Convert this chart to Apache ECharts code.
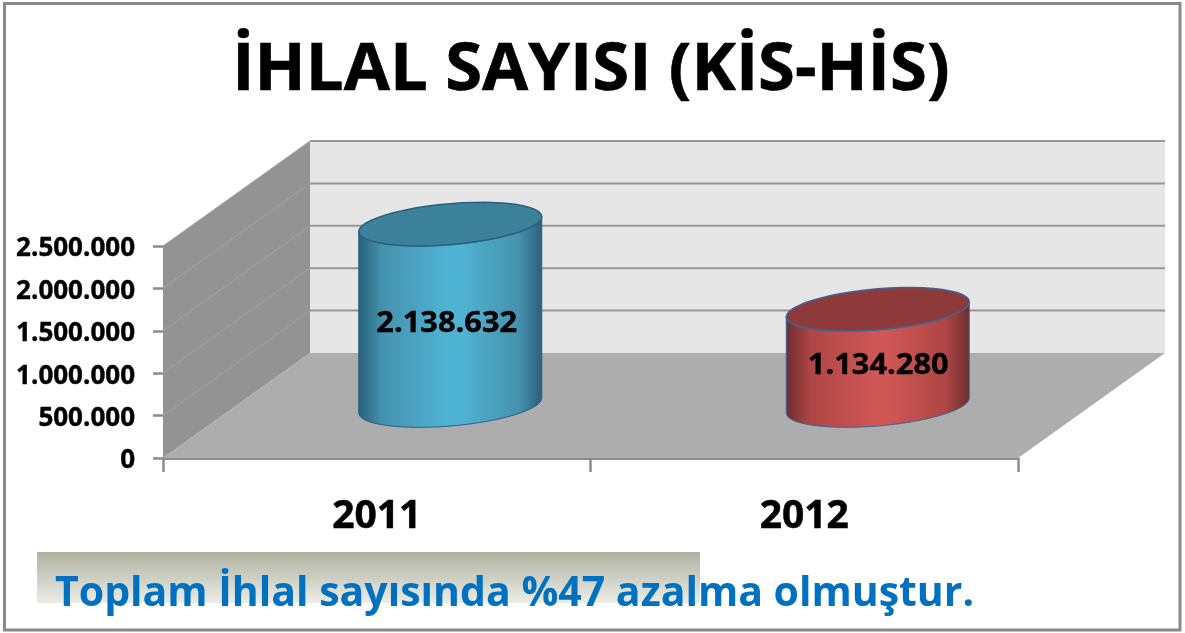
<!DOCTYPE html>
<html><head><meta charset="utf-8">
<style>html,body{margin:0;padding:0;background:#fff}#c{width:1185px;height:633px}</style>
<script src="https://cdn.jsdelivr.net/npm/echarts@6/dist/echarts.min.js"></script>
</head><body><div id="c"></div>
<script>
const categories = ['2011', '2012'];
const values = [2138632, 1134280];
const dataLabels = ['2.138.632', '1.134.280'];
const yTicks = [0, 500000, 1000000, 1500000, 2000000, 2500000];
const yTickLabels = ['0', '500.000', '1.000.000', '1.500.000', '2.000.000', '2.500.000'];
const titleText = 'İHLAL SAYISI (KİS-HİS)';
const noteText = 'Toplam İhlal sayısında %47 azalma olmuştur.';

const DX = 147, DY = 105;
const FONT = '"Open Sans"';
const palette = [
  {top:'#3a8199', edge:'#2a5f7c', labelDx:-3.5, stops:['#2b6078','#4592ad','#4fb3d3','#4fb3d3','#4592ad','#2b6078']},
  {top:'#8f3a3a', edge:'#3f6396', labelDx:0.5, stops:['#6b2d2d','#ad4644','#cf5755','#cf5755','#ad4644','#6b2d2d']}
];
const chart = echarts.init(document.getElementById('c'), null, {renderer:'canvas'});

function wallItem(params, api) {
  const p0 = api.coord([0, 0]);
  const size = api.size([1, 0]);
  const xL = p0[0] - size[0] / 2;
  const xR = xL + size[0] * categories.length;
  const yB = p0[1];
  const yT = api.coord([0, yTicks[yTicks.length - 1]])[1];
  return {type:'group', children:[
    {type:'polygon', shape:{points:[[xL+DX,yT-DY],[xR+DX,yT-DY],[xR+DX,yB-DY],[xL+DX,yB-DY]]}, style:{fill:'#e6e6e6'}},
    {type:'polygon', shape:{points:[[xL,yT],[xL+DX,yT-DY],[xL+DX,yB-DY],[xL,yB]]}, style:{fill:'#939393'}},
    {type:'polygon', shape:{points:[[xL,yB],[xL+DX,yB-DY],[xR+DX,yB-DY],[xR,yB]]}, style:{fill:'#adadad'}}
  ]};
}
function gridItem(params, api) {
  const v = api.value(0);
  const p0 = api.coord([0, v]);
  const size = api.size([1, 0]);
  const xL = p0[0] - size[0] / 2;
  const xR = xL + size[0] * categories.length;
  const y = p0[1];
  return {type:'group', children:[
    {type:'polyline', shape:{points:[[xL,y],[xL+DX,y-DY]]}, style:{stroke:'#a3a3a3', lineWidth:1, fill:null}},
    {type:'polyline', shape:{points:[[xL+DX,y-DY],[xR+DX,y-DY]]}, style:{stroke:'#969696', lineWidth:2, fill:null}}
  ]};
}
function ellipsePts(cx, cy, a, b, s, from, to) {
  const pts = [];
  const n = 48;
  for (let i = 0; i <= n; i++) {
    const t = from + (to - from) * i / n;
    pts.push([cx + a * Math.cos(t), cy + b * Math.sin(t) - s * Math.cos(t)]);
  }
  return pts;
}
function cylItem(params, api) {
  const idx = params.dataIndex;
  const base = api.coord([idx, 0]);
  const top = api.coord([idx, api.value(1)]);
  const cx = base[0] + DX / 2, yb = base[1] - DY / 2, yt = top[1] - DY / 2;
  const a = 91.5, b = 20.5, s = 7.5;
  const c = palette[idx];
  const front = ellipsePts(cx, yb, a, b, s, 0, Math.PI);
  const back = ellipsePts(cx, yt, a, b, s, Math.PI, 0);
  const stops = c.stops.map((col, i) => ({offset:[0,0.13,0.48,0.56,0.87,1][i], color:col}));
  return {type:'group', children:[
    {type:'polygon', shape:{points:front.concat(back)},
      style:{fill:{type:'linear',x:0,y:0,x2:1,y2:0,colorStops:stops}, stroke:c.edge, lineWidth:1}},
    {type:'polygon', shape:{points:ellipsePts(cx, yt, a, b, s, 0, Math.PI*2)},
      style:{fill:c.top, stroke:c.edge, lineWidth:1.5}},
    {type:'text', x:cx+c.labelDx, y:(yb+yt)/2+9, scaleX:1.1,
      style:{text:dataLabels[idx], fill:'#000', font:'bold 28px '+FONT, align:'center', verticalAlign:'middle',
        stroke:'#000', lineWidth:0.4}}
  ]};
}
chart.setOption({
  animation:false,
  backgroundColor:'#fff',
  title:{text:titleText, left:586, top:32, textAlign:'center',
    textStyle:{fontFamily:FONT, fontWeight:'bold', fontSize:67, color:'#000', textBorderColor:'#000', textBorderWidth:0.6}},
  grid:{left:163, top:246, width:855, height:212, containLabel:false},
  xAxis:{type:'category', data:categories, boundaryGap:true,
    axisLine:{lineStyle:{color:'#8c8c8c', width:3}},
    axisTick:{show:true, length:14, alignWithLabel:false, lineStyle:{color:'#8c8c8c', width:2.5}},
    axisLabel:{fontFamily:FONT, fontWeight:'bold', fontSize:39, color:'#000', margin:39, textBorderColor:'#000', textBorderWidth:0.5},
    splitLine:{show:false}},
  yAxis:{type:'value', min:0, max:2500000, interval:500000,
    axisLine:{show:true, lineStyle:{color:'#8c8c8c', width:1}},
    axisTick:{show:true, length:10, lineStyle:{color:'#8c8c8c', width:2.5}},
    axisLabel:{fontFamily:FONT, fontWeight:'bold', fontSize:26, color:'#000', margin:28, verticalAlign:'top', lineHeight:6, textBorderColor:'#000', textBorderWidth:0.4,
      formatter:(v)=>yTickLabels[yTicks.indexOf(v)]},
    splitLine:{show:false}},
  series:[
    {type:'custom', name:'walls', z:1, silent:true, data:[0], renderItem:wallItem, encode:{x:0,y:0}},
    {type:'custom', name:'grid', z:2, silent:true, data:yTicks.slice(1).map(v=>[v]), renderItem:gridItem, encode:{y:0}},
    {type:'custom', name:'İhlal', z:3, silent:true, data:values.map((v,i)=>[i,v]), renderItem:cylItem, encode:{x:0,y:1}}
  ],
  graphic:[
    {type:'rect', z:0, silent:true, shape:{x:4.5,y:3.5,width:1175.5,height:626.5}, style:{fill:null, stroke:'#8a8a8a', lineWidth:3}},
    {type:'rect', z:0, silent:true, shape:{x:37,y:552,width:663,height:51},
      style:{fill:{type:'linear',x:0,y:0,x2:0,y2:1,colorStops:[{offset:0,color:'#b0b2a0'},{offset:1,color:'#ebece6'}]}}},
    {type:'text', z:10, silent:true, x:55, y:594, style:{text:noteText, fill:'#0070c0', font:'bold 41px '+FONT, verticalAlign:'middle'}}
  ]
});
</script></body></html>
